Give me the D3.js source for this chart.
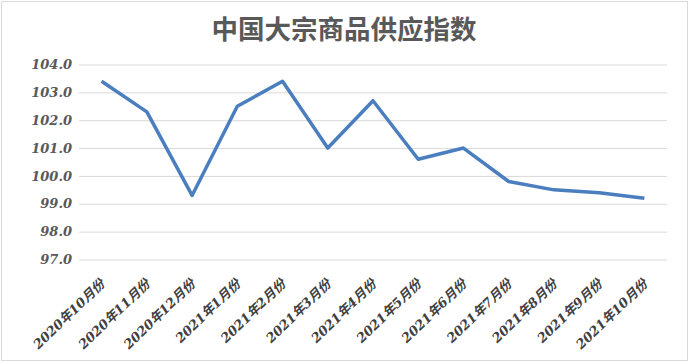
<!DOCTYPE html>
<html>
<head>
<meta charset="utf-8">
<script src="https://cdn.jsdelivr.net/npm/d3@7"></script>
<style>
  body { margin: 0; background: #fff; }
</style>
</head>
<body>
<div id="chart"></div>
<script>
const title = "中国大宗商品供应指数";
const months = [
  "2020年10月份", "2020年11月份", "2020年12月份", "2021年1月份",
  "2021年2月份", "2021年3月份", "2021年4月份", "2021年5月份",
  "2021年6月份", "2021年7月份", "2021年8月份", "2021年9月份", "2021年10月份"
];
const supplyIndex = [103.4, 102.3, 99.3, 102.5, 103.4, 101.0, 102.7, 100.6, 101.0, 99.8, 99.5, 99.4, 99.2];
const yTicks = [97, 98, 99, 100, 101, 102, 103, 104];

const width = 690;
const height = 363;
const labelFont = "'DejaVu Serif', 'Noto Sans CJK SC', serif";

const svg = d3
  .select("#chart")
  .append("svg")
  .attr("width", width)
  .attr("height", height)
  .attr("viewBox", [0, 0, width, height]);

// chart area border
svg
  .append("rect")
  .attr("x", 1.5)
  .attr("y", 1.5)
  .attr("width", width - 4)
  .attr("height", height - 4)
  .attr("fill", "#fff")
  .attr("stroke", "#d9d9d9");

const x = d3.scalePoint().domain(months).range([79, 667]).padding(0.5);
const y = d3.scaleLinear().domain([97, 104]).range([259.5, 64.5]);

// grid lines
svg
  .append("g")
  .attr("transform", "translate(79,0)")
  .call(d3.axisLeft(y).tickValues(yTicks).tickSize(-588).tickFormat(""))
  .call((g) => g.select(".domain").remove())
  .call((g) => g.selectAll(".tick line").attr("stroke", "#d9d9d9").attr("stroke-width", 1));

// y labels
svg
  .append("g")
  .attr("transform", "translate(72,0)")
  .call(d3.axisLeft(y).tickValues(yTicks).tickSize(0).tickPadding(0).tickFormat(d3.format(".1f")))
  .call((g) => g.select(".domain").remove())
  .call((g) =>
    g
      .selectAll("text")
      .attr("fill", "#595959")
      .attr("font-family", labelFont)
      .attr("font-style", "italic")
      .attr("font-weight", "bold")
      .attr("font-size", 13),
  );

// x labels
svg
  .append("g")
  .selectAll("text")
  .data(months)
  .join("text")
  .attr("transform", (d) => `translate(${x(d) + 4},285) rotate(-44)`)
  .attr("text-anchor", "end")
  .attr("fill", "#404040")
  .attr("font-family", labelFont)
  .attr("font-style", "italic")
  .attr("font-weight", "bold")
  .attr("font-size", 13)
  .text((d) => d);

// line
const line = d3
  .line()
  .x((d, i) => x(months[i]))
  .y((d) => y(d));

svg
  .append("path")
  .datum(supplyIndex)
  .attr("fill", "none")
  .attr("stroke", "#4a7ebe")
  .attr("stroke-width", 3.5)
  .attr("stroke-linejoin", "round")
  .attr("d", line);

// title
svg
  .append("text")
  .attr("x", 344)
  .attr("y", 39)
  .attr("text-anchor", "middle")
  .attr("fill", "#595959")
  .attr("font-family", "'Noto Sans CJK SC', sans-serif")
  .attr("font-weight", "bold")
  .attr("font-size", 26.5)
  .text(title);
</script>
</body>
</html>
